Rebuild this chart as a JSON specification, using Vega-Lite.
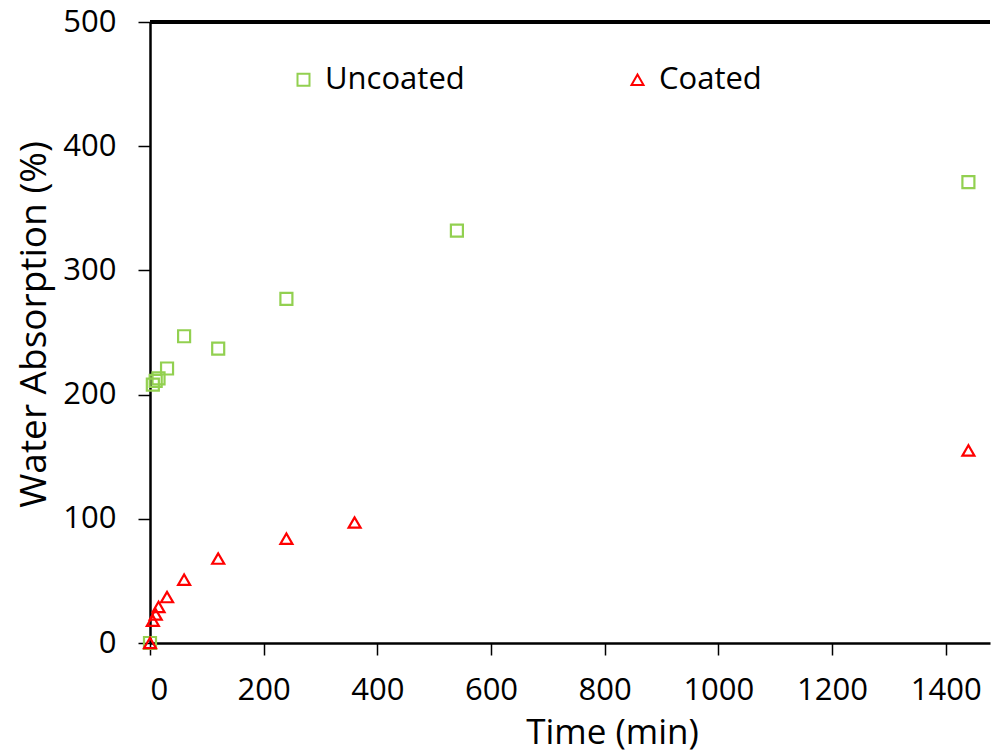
{
  "$schema": "https://vega.github.io/schema/vega-lite/v6.json",
  "width": 840,
  "height": 621,
  "autosize": {"type": "none"},
  "padding": {"left": 150, "top": 22, "right": 2, "bottom": 112},
  "background": "white",
  "config": {
    "view": {"stroke": null},
    "font": "Open Sans",
    "axis": {"domainColor": "black", "domainWidth": 2.5, "tickColor": "black", "tickWidth": 1.5, "tickSize": 12, "labelColor": "black", "titleColor": "black", "labelFont": "Open Sans", "titleFont": "Open Sans", "labelFontSize": 31, "titleFontWeight": "normal", "grid": false, "format": "d"}
  },
  "data": {
    "values": [
      {"t": 0, "w": 0, "s": "Uncoated"},
      {"t": 5, "w": 208, "s": "Uncoated"},
      {"t": 10, "w": 211, "s": "Uncoated"},
      {"t": 15, "w": 213, "s": "Uncoated"},
      {"t": 30, "w": 221, "s": "Uncoated"},
      {"t": 60, "w": 247, "s": "Uncoated"},
      {"t": 120, "w": 237, "s": "Uncoated"},
      {"t": 240, "w": 277, "s": "Uncoated"},
      {"t": 540, "w": 332, "s": "Uncoated"},
      {"t": 1440, "w": 371, "s": "Uncoated"},
      {"t": 0, "w": 0, "s": "Coated"},
      {"t": 5, "w": 18, "s": "Coated"},
      {"t": 10, "w": 23, "s": "Coated"},
      {"t": 15, "w": 29, "s": "Coated"},
      {"t": 30, "w": 37, "s": "Coated"},
      {"t": 60, "w": 51, "s": "Coated"},
      {"t": 120, "w": 68, "s": "Coated"},
      {"t": 240, "w": 84, "s": "Coated"},
      {"t": 360, "w": 97, "s": "Coated"},
      {"t": 1440, "w": 155, "s": "Coated"}
    ]
  },
  "layer": [
    {
      "mark": {"type": "rule", "color": "black", "strokeWidth": 2.5},
      "encoding": {"y": {"datum": 500, "type": "quantitative"}}
    },
    {
      "mark": {"type": "point", "filled": false, "strokeWidth": 2.2, "size": 144, "opacity": 1},
      "encoding": {
        "x": {"field": "t", "type": "quantitative", "scale": {"domain": [0, 1478], "nice": false, "zero": true}, "axis": {"values": [0, 200, 400, 600, 800, 1000, 1200, 1400], "title": "Time (min)", "labelPadding": 20, "titleFontSize": 35, "titleBaseline": "alphabetic", "titleX": 462, "titleY": 100}},
        "y": {"field": "w", "type": "quantitative", "scale": {"domain": [0, 500], "nice": false}, "axis": {"values": [0, 100, 200, 300, 400, 500], "title": "Water Absorption (%)", "labelPadding": 22, "titleFontSize": 37, "titleAngle": -90, "titleBaseline": "alphabetic", "titleX": -105, "titleY": 302}},
        "color": {"field": "s", "type": "nominal", "scale": {"domain": ["Uncoated", "Coated"], "range": ["#92D050", "#FF0000"]}, "legend": {"title": null, "orient": "none", "legendX": 138, "legendY": 42, "direction": "horizontal", "columns": 2, "columnPadding": 157, "labelFontSize": 31, "labelFont": "Open Sans", "labelColor": "black", "symbolSize": 144, "symbolStrokeWidth": 2, "labelOffset": 6}},
        "shape": {"field": "s", "type": "nominal", "scale": {"domain": ["Uncoated", "Coated"], "range": ["square", "triangle-up"]}}
      }
    }
  ]
}
